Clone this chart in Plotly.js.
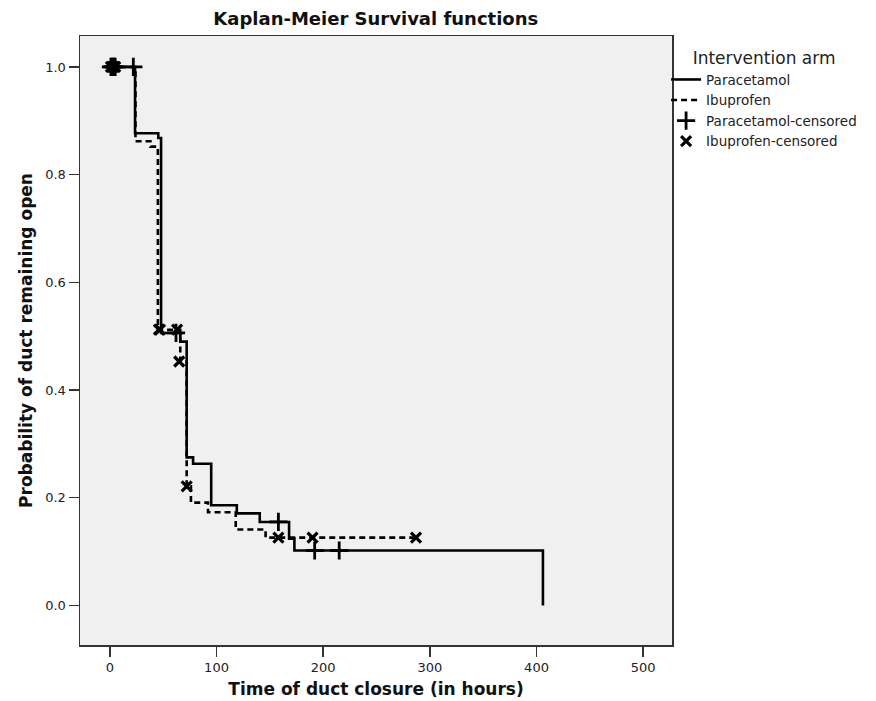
<!DOCTYPE html>
<html>
<head>
<meta charset="utf-8">
<script src="https://cdn.plot.ly/plotly-3.0.1.min.js"></script>
<style>html,body{margin:0;padding:0;background:#fff;}#chart{width:876px;height:701px;}</style>
</head>
<body>
<div id="chart"></div>
<script>
// Kaplan-Meier step data (time in hours, survival probability after each event)
const paraTime = [0, 23.6, 45.4, 48, 66, 72, 78, 95, 119, 140.5, 168, 173, 406];
const paraSurv = [1.0, 0.877, 0.868, 0.506, 0.490, 0.275, 0.263, 0.186, 0.171, 0.155, 0.124, 0.102, 0.0];
const ibuTime = [0, 24, 38, 45, 66, 72, 76, 92, 118, 146, 290];
const ibuSurv = [1.0, 0.862, 0.852, 0.512, 0.453, 0.221, 0.191, 0.173, 0.141, 0.126, 0.126];
// censored observations
const paraCensTime = [1, 2, 3, 4, 5, 22, 62, 158, 192, 215];
const paraCensSurv = [1.0, 1.0, 1.0, 1.0, 1.0, 1.0, 0.506, 0.155, 0.102, 0.102];
const ibuCensTime = [1, 2, 3, 4, 5, 46, 47, 63, 65, 72, 158, 190, 287];
const ibuCensSurv = [1.0, 1.0, 1.0, 1.0, 1.0, 0.512, 0.512, 0.512, 0.453, 0.221, 0.126, 0.126, 0.126];
const xTicks = [0, 100, 200, 300, 400, 500];
const yTicks = [0.0, 0.2, 0.4, 0.6, 0.8, 1.0];

const FONT = 'DejaVu Sans, Liberation Sans, sans-serif';

const traces = [
  {x: paraTime, y: paraSurv, name: 'Paracetamol', mode: 'lines',
   line: {shape: 'hv', color: '#000', width: 2.6}},
  {x: ibuTime, y: ibuSurv, name: 'Ibuprofen', mode: 'lines',
   line: {shape: 'hv', color: '#000', width: 2.6, dash: '6px,4px'}},
  {x: paraCensTime, y: paraCensSurv, name: 'Paracetamol-censored', mode: 'markers',
   marker: {symbol: 'cross-thin', size: 13, color: '#000', line: {color: '#000', width: 2.8}}},
  {x: ibuCensTime, y: ibuCensSurv, name: 'Ibuprofen-censored', mode: 'markers',
   marker: {symbol: 'x-thin', size: 10, color: '#000', line: {color: '#000', width: 3.2}}}
];

const layout = {
  width: 876, height: 701,
  margin: {l: 80, r: 204, t: 36, b: 56},
  paper_bgcolor: '#ffffff',
  plot_bgcolor: '#f0f0f0',
  font: {family: FONT, color: '#222'},
  title: {text: '<b>Kaplan-Meier Survival functions</b>', font: {family: FONT, size: 18, color: '#111'},
          x: 0.429, xref: 'container', xanchor: 'center', y: 0.974, yref: 'container', yanchor: 'middle'},
  xaxis: {range: [-28, 527], tickvals: xTicks, ticktext: xTicks.map(String),
          ticks: 'outside', ticklen: 10, tickwidth: 1.5, tickcolor: '#333',
          showline: true, mirror: true, linecolor: '#333', linewidth: 1.5,
          showgrid: false, zeroline: false, automargin: false,
          tickfont: {family: FONT, size: 13, color: '#222'},
          title: {text: '<b>Time of duct closure (in hours)</b>', font: {family: FONT, size: 17, color: '#111'}, standoff: 9}},
  yaxis: {range: [-0.0735, 1.0575], tickvals: yTicks, ticktext: yTicks.map(v => v.toFixed(1)),
          ticks: 'outside', ticklen: 10, tickwidth: 1.5, tickcolor: '#333',
          showline: true, mirror: true, linecolor: '#333', linewidth: 1.5,
          showgrid: false, zeroline: false, automargin: false,
          tickfont: {family: FONT, size: 13, color: '#222'},
          title: {text: '<b>Probability of duct remaining open</b>', font: {family: FONT, size: 17, color: '#111'}, standoff: 8}},
  showlegend: true,
  legend: {x: 0.99, xanchor: 'left', y: 0.99, yanchor: 'top',
           bgcolor: 'rgba(0,0,0,0)', tracegroupgap: 0, itemwidth: 30,
           font: {family: FONT, size: 13.5, color: '#222'},
           title: {text: 'Intervention arm', side: 'top center', font: {family: FONT, size: 17, color: '#222'}}}
};

Plotly.newPlot('chart', traces, layout, {displayModeBar: false, staticPlot: true});
</script>
</body>
</html>
